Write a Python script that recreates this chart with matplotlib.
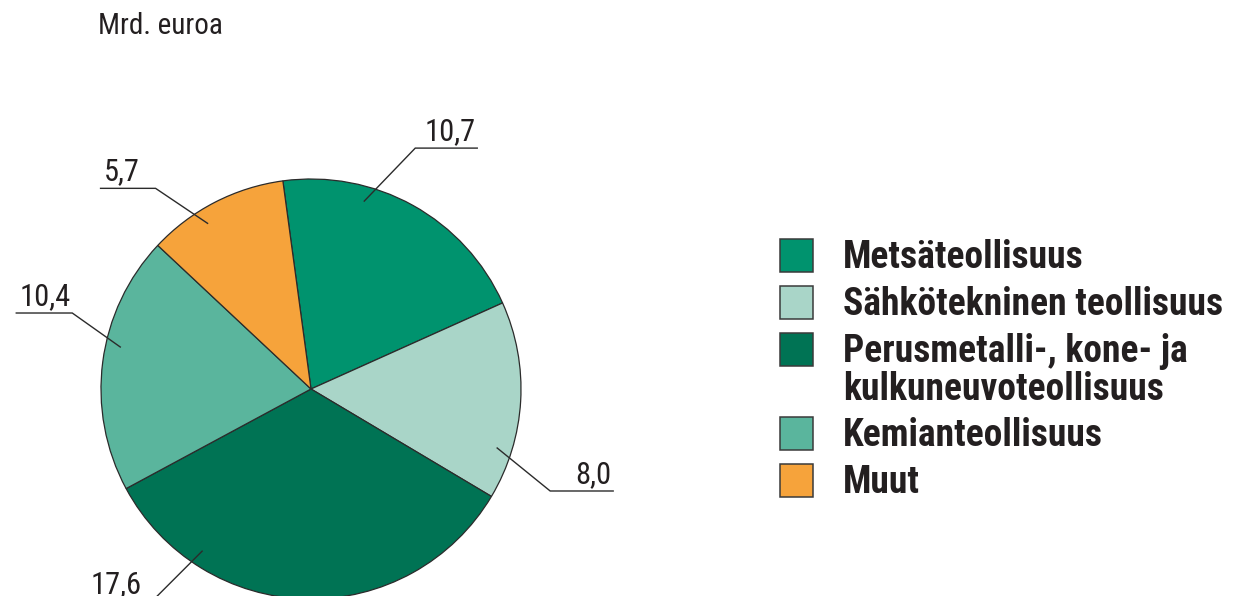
import matplotlib
matplotlib.use('Agg')
import matplotlib.pyplot as plt
from matplotlib import font_manager
from matplotlib.patches import Rectangle
import numpy as np

# Data (Mrd. euroa)
toimialat = ['Metsäteollisuus', 'Sähkötekninen teollisuus',
             'Perusmetalli-, kone- ja\nkulkuneuvoteollisuus',
             'Kemianteollisuus', 'Muut']
arvot = [10.7, 8.0, 17.6, 10.4, 5.7]
arvo_tekstit = ['10,7', '8,0', '17,6', '10,4', '5,7']
varit = ['#00936e', '#a9d5c8', '#007354', '#5ab59d', '#f6a33b']

# Layout in pixels (figure 1234 x 596)
W, H = 1234, 596
CX, CY, R = 311, H - 389, 210

# Leader lines: anchor position inside wedge (fraction of wedge angle),
# offset to elbow (dx, dy up) and horizontal length (signed)
vipu = [
    (0.68, 51, 53, 62),
    (0.24, 53, -43, 63),
    (0.23, -50, -50, -65),
    (0.43, -48, 34, -56),
    (0.62, -52, 35, -55),
]

# kapea fontti jos löytyy
saatavilla = {f.name for f in font_manager.fontManager.ttflist}
fontti = 'DejaVu Sans'
for nimi in ['Roboto Condensed', 'Archivo Narrow', 'PT Sans Narrow',
             'Barlow Semi Condensed', 'Barlow Condensed']:
    if nimi in saatavilla:
        fontti = nimi
        break

plt.rcParams['font.family'] = [fontti, 'DejaVu Sans']
teksti_vari = '#231f20'
viiva_vari = '#2b2b2b'

fig = plt.figure(figsize=(W / 100, H / 100), dpi=100)
ax = fig.add_axes([0, 0, 1, 1])

wedges, _ = ax.pie(arvot, colors=varit, startangle=97.7, counterclock=False,
                   center=(CX, CY), radius=R,
                   wedgeprops=dict(edgecolor=viiva_vari, linewidth=0.9))

# arvot ja viivat
for w, (frac, dx, dy, hl), txt in zip(wedges, vipu, arvo_tekstit):
    a = np.deg2rad(w.theta1 + frac * (w.theta2 - w.theta1))
    x0 = CX + 0.93 * R * np.cos(a)
    y0 = CY + 0.93 * R * np.sin(a)
    x1, y1 = x0 + dx, y0 + dy
    x2 = x1 + hl
    ax.plot([x0, x1, x2], [y0, y1, y1], color=viiva_vari, lw=1.0,
            solid_joinstyle='miter', clip_on=False)
    if hl > 0:
        ax.text(x2 - 2, y1 + 8, txt, ha='right', va='baseline',
                fontsize=22, color=teksti_vari)
    else:
        ax.text(x2 + 3, y1 + 8, txt, ha='left', va='baseline',
                fontsize=22, color=teksti_vari)

ax.text(98, H - 34, 'Mrd. euroa', ha='left', va='baseline',
        fontsize=21, color=teksti_vari)

# selite: ruutu rivin ensimmäisen tekstirivin kohdalle
LX, LY, RIVI, LISARIVI, RUUTU = 780, 255, 47, 37, 33
y = LY
for nimi, vari in zip(toimialat, varit):
    ax.add_patch(Rectangle((LX, H - y - RUUTU / 2), RUUTU, RUUTU,
                           facecolor=vari, edgecolor='#3a3a3a', lw=1.1))
    ax.text(LX + 63, H - y + 16, nimi, ha='left', va='top',
            fontsize=27, fontweight='bold', color=teksti_vari,
            linespacing=1.05)
    y += RIVI + LISARIVI * nimi.count('\n')

ax.set_xlim(0, W)
ax.set_ylim(0, H)
ax.set_aspect('equal')
ax.axis('off')

fig.savefig('out.png', dpi=100)
